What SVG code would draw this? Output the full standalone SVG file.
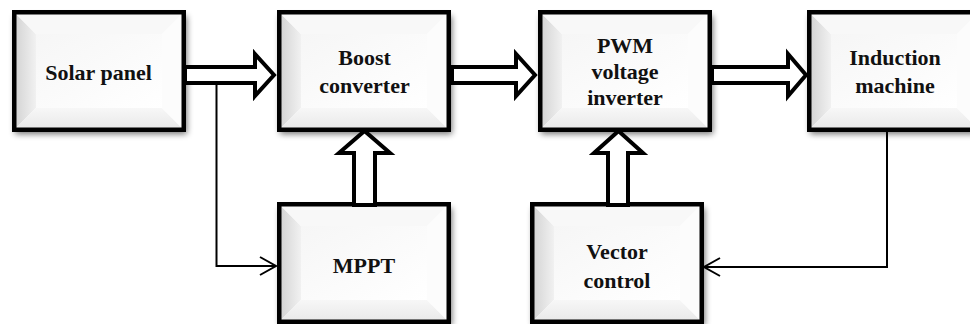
<svg xmlns="http://www.w3.org/2000/svg" width="970" height="324" viewBox="0 0 970 324">
<style>
.lbl{font-family:"Liberation Serif","Times New Roman",serif;font-weight:bold;font-size:22px;fill:#111;text-anchor:middle}
.hollow{fill:#fff;stroke:#000;stroke-width:4;stroke-linejoin:miter;stroke-miterlimit:10}
.thin{fill:none;stroke:#000;stroke-width:2}
</style>
<defs>
<filter id="blur" x="-10%" y="-10%" width="120%" height="130%"><feGaussianBlur stdDeviation="3"/></filter>
<linearGradient id="gL" x1="0" y1="0" x2="1" y2="0"><stop offset="0" stop-color="#d2d2d2"/><stop offset="1" stop-color="#f1f1f1"/></linearGradient>
<linearGradient id="gB" x1="0" y1="0" x2="0" y2="1"><stop offset="0" stop-color="#f7f7f7"/><stop offset="1" stop-color="#e8e8e8"/></linearGradient>
<linearGradient id="gF" x1="0" y1="0" x2="1" y2="1"><stop offset="0" stop-color="#f6f6f6"/><stop offset="1" stop-color="#ffffff"/></linearGradient>
<g id="box">
<rect x="3" y="6" width="172" height="118" fill="#000" opacity="0.55" filter="url(#blur)"/>
<rect x="0" y="0" width="174" height="122" fill="#fff"/>
<polygon points="2,2 24,24 24,98 2,120" fill="url(#gL)"/>
<polygon points="2,2 172,2 150,24 24,24" fill="#f8f8f8"/>
<polygon points="2,120 24,98 150,98 172,120" fill="url(#gB)"/>
<polygon points="172,2 172,120 150,98 150,24" fill="#fcfcfc"/>
<rect x="24" y="24" width="126" height="74" fill="url(#gF)"/>
<rect x="2.25" y="2.25" width="169.5" height="117.5" fill="none" stroke="#000" stroke-width="4.5"/>
</g>
<marker id="open" markerUnits="userSpaceOnUse" viewBox="-19 -12 22 24" refX="0" refY="0" markerWidth="22" markerHeight="24" orient="auto">
<path d="M-16,-9 L0,0 L-16,9" fill="none" stroke="#000" stroke-width="2"/>
</marker>
</defs>

<g id="solar-panel"><use href="#box" x="12" y="10"/><text class="lbl" x="98.5" y="80">Solar panel</text></g>
<g id="boost-converter"><use href="#box" x="277" y="10"/><text class="lbl" x="364.5" y="65">Boost</text><text class="lbl" x="364.5" y="93">converter</text></g>
<g id="pwm-inverter"><use href="#box" x="538" y="10"/><text class="lbl" x="625" y="53">PWM</text><text class="lbl" x="625" y="79">voltage</text><text class="lbl" x="625" y="105">inverter</text></g>
<g id="induction-machine"><use href="#box" x="807" y="10"/><text class="lbl" x="895" y="65">Induction</text><text class="lbl" x="895" y="93">machine</text></g>
<g id="mppt"><use href="#box" x="277" y="202"/><text class="lbl" x="364" y="273">MPPT</text></g>
<g id="vector-control"><use href="#box" x="530" y="202"/><text class="lbl" x="617" y="259">Vector</text><text class="lbl" x="617" y="288">control</text></g>

<g id="connectors">
<polygon class="hollow" points="185,67 255,67 255,54 274,75 255,96 255,83 185,83"/>
<polygon class="hollow" points="452,67 516,67 516,54 535,75 516,96 516,83 452,83"/>
<polygon class="hollow" points="712,67 788,67 788,54 806,75 788,96 788,83 712,83"/>
<polygon class="hollow" points="354,205 354,153 339,153 364.5,131 390,153 375,153 375,205"/>
<polygon class="hollow" points="608,205 608,153 594,153 618.5,131 643,153 628,153 628,205"/>
<polyline class="thin" points="216.5,84 216.5,266 276,266" marker-end="url(#open)"/>
<polyline class="thin" points="887,132 887,267 704,267" marker-end="url(#open)"/>
</g>
</svg>
